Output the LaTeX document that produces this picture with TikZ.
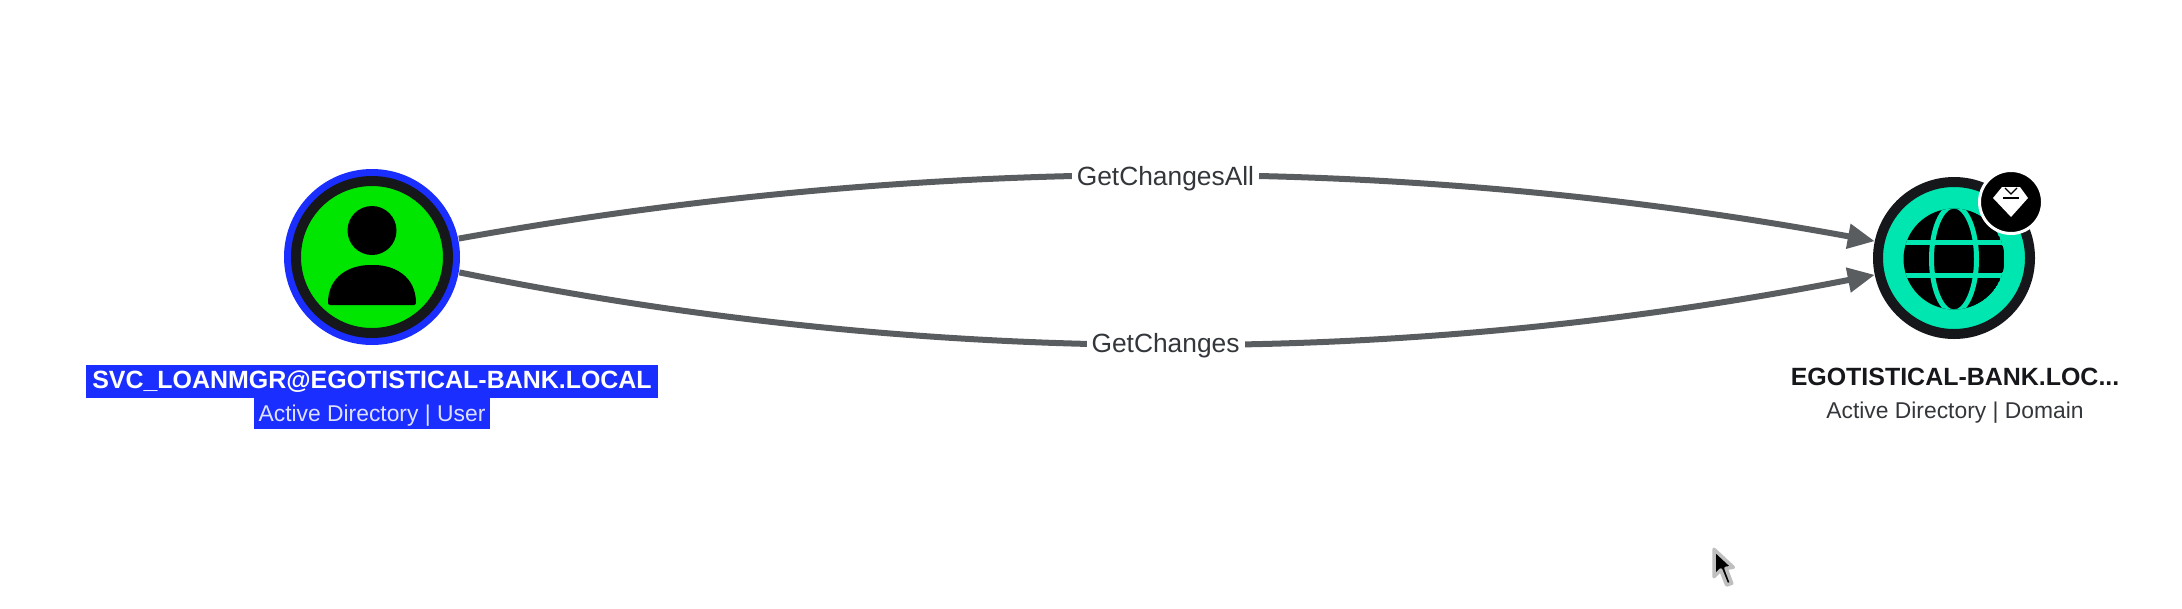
\documentclass[tikz,border=0pt]{standalone}
\usepackage{fontspec}
\setmainfont{Liberation Sans}
\usepackage{tikz}
\usetikzlibrary{arrows.meta}
\usepackage{xcolor}
\definecolor{ringblack}{HTML}{15171A}
\definecolor{selblue}{HTML}{1A2EFF}
\definecolor{usergreen}{HTML}{00E600}
\definecolor{domainteal}{HTML}{00E6B0}
\definecolor{edgegray}{HTML}{5A5D60}
\definecolor{textgray}{HTML}{33363A}
\tikzset{
   edgeline/.style={draw=edgegray, line width=0.06cm, -{Triangle[length=0.27cm,width=0.24cm]}},
   edgelabel/.style={fill=white, text=textgray, inner xsep=0.05cm, inner ysep=0.04cm, font=\fontsize{7.5}{8}\selectfont},
   namelabel/.style={inner sep=0, font=\fontsize{7.1}{8}\selectfont\bfseries},
   typelabel/.style={inner sep=0, font=\fontsize{6.5}{8}\selectfont},
}

\begin{document}
\begin{tikzpicture}
   \useasboundingbox (0,0) rectangle (21.82,6.08);

   % coords
   \coordinate (UC) at (3.72, 3.51);
   \coordinate (DC) at (19.54, 3.50);
   \coordinate (BC) at (20.11, 4.06);

   % user node
   \node[circle, fill=selblue, inner sep=0, minimum size=1.76cm] (user) at (UC) {};
   \node[circle, fill=usergreen, draw=ringblack, line width=0.10cm, inner sep=0, minimum size=1.52cm] (userring) at (UC) {};
   \fill[black] (3.72, 3.775) circle (0.245);
   \fill[black, rounded corners=0.02cm] (3.28, 3.03) .. controls (3.28, 3.32) and (3.50, 3.43) .. (3.72, 3.43)
      .. controls (3.94, 3.43) and (4.16, 3.32) .. (4.16, 3.03) -- cycle;

   % domain node
   \node[circle, fill=domainteal, draw=ringblack, line width=0.10cm, inner sep=0, minimum size=1.52cm] (domain) at (DC) {};
   \begin{scope}
      \clip (19.54, 3.49) circle (0.505);
      \fill[black] (19.54, 3.49) circle (0.505);
      \draw[domainteal, line width=0.05cm] (19.00, 3.66) -- (20.08, 3.66);
      \draw[domainteal, line width=0.05cm] (19.00, 3.33) -- (20.08, 3.33);
      \draw[domainteal, line width=0.05cm] (19.54, 3.49) ellipse (0.225 and 0.53);
   \end{scope}

   % badge
   \node[circle, fill=black, draw=white, line width=0.03cm, inner sep=0, minimum size=0.63cm] (badge) at (BC) {};
   \fill[white] (20.02, 4.21) -- (20.20, 4.21) -- (20.28, 4.10) -- (20.11, 3.91) -- (19.93, 4.10) -- cycle;
   \draw[black, line width=0.012cm] (20.05, 4.20) -- (20.11, 4.14) -- (20.17, 4.20);
   \draw[black, line width=0.012cm] (20.03, 4.10) -- (20.19, 4.10);

   % edges
   \draw[edgeline] (user.12) .. controls (9.3, 4.54) and (14.0, 4.54) .. (domain.168)
      node[pos=0.5, edgelabel, yshift=-0.03cm] (allname) {GetChangesAll};
   \draw[edgeline] (user.-10.5) .. controls (9.3, 2.40) and (14.0, 2.40) .. (domain.192)
      node[pos=0.5, edgelabel, yshift=-0.01cm] (changesname) {GetChanges};

   % labels
   \node[fill=selblue, inner sep=0, minimum width=5.72cm, minimum height=0.33cm, text=white, namelabel] (username) at (3.72, 2.265) {SVC\_LOANMGR@EGOTISTICAL-BANK.LOCAL};
   \node[fill=selblue, inner sep=0, minimum width=2.36cm, minimum height=0.31cm, text depth=0pt, text=white!85!selblue, typelabel] (usertype) at (3.72, 1.95) {Active Directory | User};
   \node[text=ringblack, namelabel] (domainname) at (19.55, 2.31) {EGOTISTICAL-BANK.LOC...};
   \node[text=textgray, typelabel] (domaintype) at (19.55, 1.95) {Active Directory | Domain};

   % pointer
   \draw[black!25, line width=0.035cm, fill=black, line join=round] (17.14, 0.587) -- (17.14, 0.313) -- (17.207, 0.38) -- (17.267, 0.23)
      -- (17.317, 0.247) -- (17.26, 0.397) -- (17.333, 0.407) -- cycle;
\end{tikzpicture}
\end{document}
